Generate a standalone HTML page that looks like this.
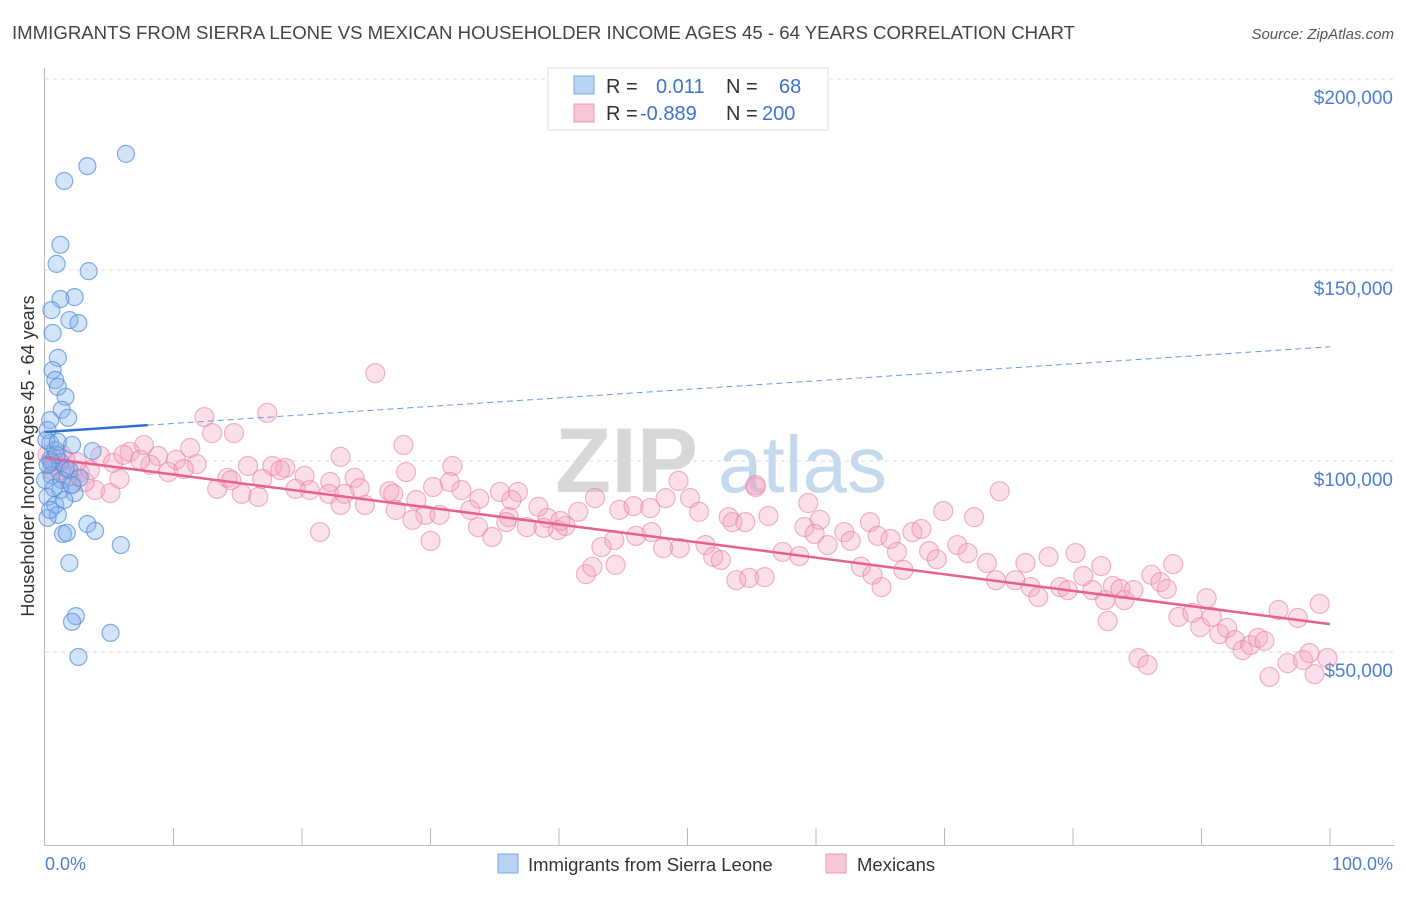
<!DOCTYPE html>
<html><head><meta charset="utf-8"><style>
body{margin:0;background:#fff;font-family:"Liberation Sans",sans-serif;}
svg text{font-family:"Liberation Sans",sans-serif;}
</style></head><body>
<svg id="chart" width="1406" height="892" viewBox="0 0 1406 892" xmlns="http://www.w3.org/2000/svg">
<text x="12" y="39" font-size="18.5" fill="#444" textLength="1063" lengthAdjust="spacingAndGlyphs">IMMIGRANTS FROM SIERRA LEONE VS MEXICAN HOUSEHOLDER INCOME AGES 45 - 64 YEARS CORRELATION CHART</text>
<text x="1394" y="39" font-size="15" fill="#555" font-style="italic" text-anchor="end">Source: ZipAtlas.com</text>
<g>
<text x="555" y="492" font-size="92" fill="#d8d8d8" font-family="Liberation Serif" font-weight="bold">ZIP</text>
<text x="718" y="492" font-size="80" fill="#c4d8ee">atlas</text>
</g>
<g id="grid"></g>
<line x1="44.5" y1="68" x2="44.5" y2="846" stroke="#bbb"/>
<line x1="44" y1="845.5" x2="1395" y2="845.5" stroke="#bbb"/>
<g id="xticks"></g>
<text transform="translate(34,456) rotate(-90)" font-size="18" fill="#333" text-anchor="middle">Householder Income Ages 45 - 64 years</text>
<text x="45" y="870" font-size="18" fill="#4a80d0">0.0%</text>
<text x="1393" y="870" font-size="18" fill="#4a80d0" text-anchor="end">100.0%</text>
<g id="pink"></g>
<g id="blue"></g>
<g id="trends"></g>
<g>
<rect x="548" y="68" width="280" height="62" fill="#fff" stroke="#ddd"/>
<rect x="574" y="76" width="20" height="18" fill="#b8d2f3" stroke="#7aa7e0"/>
<rect x="574" y="104" width="20" height="18" fill="#f9c6d6" stroke="#ec98b5"/>
<text x="606" y="93" font-size="20" fill="#333">R = </text><text x="656" y="93" font-size="20" fill="#3a74d0">0.011</text>
<text x="726" y="93" font-size="20" fill="#333">N = </text><text x="779" y="93" font-size="20" fill="#3a74d0">68</text>
<text x="606" y="120" font-size="20" fill="#333">R = </text><text x="640" y="120" font-size="20" fill="#3a74d0">-0.889</text>
<text x="726" y="120" font-size="20" fill="#333">N = </text><text x="762" y="120" font-size="20" fill="#3a74d0">200</text>
</g>
<g>
<rect x="498" y="854" width="20" height="19" fill="#b8d2f3" stroke="#7aa7e0"/>
<text x="528" y="871" font-size="18.5" fill="#333">Immigrants from Sierra Leone</text>
<rect x="826" y="854" width="20" height="19" fill="#f9c6d6" stroke="#ec98b5"/>
<text x="857" y="871" font-size="18.5" fill="#333">Mexicans</text>
</g>
</svg>
<script>
const yTicks=[50000,100000,150000,200000];
const yTickLabels=["$50,000","$100,000","$150,000","$200,000"];
const blueX=[6.3,3.3,1.5,1.2,0.9,3.4,2.3,1.2,0.5,1.9,2.6,0.6,1.0,0.6,0.8,1.0,1.6,1.3,1.8,0.4,0.2,0.4,2.1,0.8,3.7,0.4,1.2,1.6,0.5,1.3,2.3,0.2,0.8,1.0,0.2,1.4,1.7,3.3,3.9,5.9,1.9,2.4,2.1,5.1,2.6,0.5,0.9,0,1.2,0.4,1.9,2.7,0.1,1.0,0.2,0.7,1.5,2.1];
const blueY=[180.4,177.2,173.3,156.6,151.6,149.7,142.9,142.4,139.5,136.9,136.1,133.5,127.0,123.8,121.2,119.4,116.8,113.4,111.3,110.7,108.1,104.7,104.2,102.9,102.6,100.3,99.7,98.2,96.3,95.0,91.6,90.6,88.5,85.9,85.1,80.9,81.2,83.5,81.7,78.0,73.3,59.4,57.9,55.0,48.7,99.7,101.6,95,92.4,87.2,97.6,95.6,105.5,105,99,92.9,89.8,93.7];
const pinkX=[25.7,17.3,12.4,14.7,13.0,27.9,7.7,11.3,6.6,4.3,8.8,10.2,23.0,31.7,28.1,15.8,17.7,18.7,20.2,24.1,22.2,11.8,14.2,13.4,15.3,16.6,19.5,22.1,23.3,26.8,28.9,30.2,32.4,33.8,35.4,36.8,36.3,38.4,24.9,23.0,21.4,27.3,29.6,30.7,33.7,34.8,36.1,37.5,39.1,39.9,40.5,41.5,42.8,43.3,42.1,44.4,44.7,45.8,47.1,49.3,48.3,50.2,50.9,53.2,51.4,49.4,48.1,47.2,46.0,44.3,53.5,54.5,55.3,56.3,57.4,58.7,59.4,59.1,60.3,59.9,60.9,62.2,62.7,64.2,64.8,63.5,64.4,65.1,65.8,66.3,66.8,67.5,68.2,68.8,69.4,69.9,71.0,72.3,71.8,73.3,74.0,75.5,76.3,76.7,77.3,78.1,79.0,79.6,80.2,80.8,81.5,82.2,82.5,83.1,83.7,84.0,84.7,82.7,85.1,85.8,86.1,86.8,87.3,87.8,88.2,89.3,89.9,90.4,90.8,91.4,92.0,92.6,93.2,93.8,94.4,94.9,95.3,96.0,96.7,97.5,97.9,98.4,98.8,99.2,99.8,74.3,55.3,42.6,53.8,54.8,56.0,52.0,52.6,40.1,38.8,33.1,35.9,31.5,30.0,28.6,27.1,24.5,20.6,18.3,16.9,14.5,5.3,5.8,3.9,2.7,1.8,1.2,0.8,2.1,3.1,5.1,1.3,3.5,8.2,9.6,10.8,7.4,6.1,0.2,0.5,1.6,2.5];
const pinkY=[123.0,112.6,111.5,107.3,107.3,104.2,104.2,103.4,102.4,101.3,101.3,100.3,101.1,98.7,97.1,98.7,98.7,98.2,96.1,95.6,94.5,99.2,95.6,92.7,91.4,90.6,92.7,91.4,91.4,92.1,89.8,93.2,92.4,90.1,91.9,91.9,89.8,88.0,88.5,88.5,81.4,87.2,85.9,85.9,82.7,80.1,85.3,82.7,85.1,81.9,83.0,86.7,90.3,77.5,70.4,72.8,87.2,88.2,87.7,94.8,90.3,90.3,86.7,85.3,78.0,77.2,77.2,81.4,80.4,79.3,84.0,84.0,93.2,85.6,76.2,75.1,89.0,82.7,84.6,80.9,78.0,81.4,79.1,84.0,80.4,72.3,70.2,67.0,79.6,76.2,71.5,81.4,82.2,76.4,74.3,86.9,78.0,85.3,75.9,73.3,68.8,68.8,73.3,67.0,64.4,74.9,67.0,66.2,75.9,69.9,66.2,72.5,63.6,67.3,66.5,63.6,66.2,58.1,48.4,46.6,70.2,68.3,66.5,73.0,59.2,60.2,56.5,64.1,59.2,54.7,56.3,53.1,50.5,51.8,53.7,52.9,43.5,61.0,47.1,58.9,47.9,49.7,44.2,62.6,48.4,92.1,93.7,72.3,68.8,69.4,69.6,74.9,74.1,84.3,82.5,87.2,84.0,94.5,79.1,84.6,91.4,92.9,92.4,97.6,95.3,95.0,99.5,95.3,92.4,96.9,96.3,97.6,99.0,94.2,94.5,91.6,101.6,97.6,99.0,97.1,97.9,100.3,101.6,101.6,97.6,100.3,99.7];
const blueTrend=[107600,129900];
const pinkTrend=[100800,57300];
const blueSolidEnd=8;
const NS="http://www.w3.org/2000/svg";
const xS=p=>45+p*12.85;
const yS=v=>652-(v-50000)*191/50000;
function mk(tag,attrs,parent){const e=document.createElementNS(NS,tag);for(const k in attrs)e.setAttribute(k,attrs[k]);parent.appendChild(e);return e;}
const grid=document.getElementById('grid');
yTicks.forEach((t,i)=>{
  const l=mk('line',{x1:45,x2:1395,y1:yS(t),y2:yS(t),stroke:'#ddd','stroke-dasharray':'4,4'},grid);
  
  
  const tx=mk('text',{x:1393,y:yS(t)+25,'font-size':19,fill:'#4a80d0','text-anchor':'end'},grid);
  tx.textContent=yTickLabels[i];
  
  
});
const xt=document.getElementById('xticks');
for(let i=1;i<=10;i++){
  const l=mk('line',{x1:xS(i*10),x2:xS(i*10),y1:828,y2:845,stroke:'#bbb'},xt);
  
  
}
const pg=document.getElementById('pink');
pinkX.forEach((x,i)=>{
  const c=mk('circle',{cx:xS(x),cy:yS(pinkY[i]*1000),r:9.5,fill:'rgba(244,160,190,0.33)',stroke:'rgba(232,130,165,0.6)','stroke-width':1.2},pg);
  
  
});
const bg=document.getElementById('blue');
blueX.forEach((x,i)=>{
  const c=mk('circle',{cx:xS(x),cy:yS(blueY[i]*1000),r:8.5,fill:'rgba(130,175,235,0.35)',stroke:'rgba(80,140,220,0.7)','stroke-width':1.2},bg);
  
  
});
const tg=document.getElementById('trends');
const bAt=p=>blueTrend[0]+(blueTrend[1]-blueTrend[0])*p/100;
const pAt=p=>pinkTrend[0]+(pinkTrend[1]-pinkTrend[0])*p/100;
let l1=mk('line',{x1:xS(0),y1:yS(bAt(0)),x2:xS(blueSolidEnd),y2:yS(bAt(blueSolidEnd)),stroke:'#2f6fd0','stroke-width':2.5},tg);


let l2=mk('line',{x1:xS(blueSolidEnd),y1:yS(bAt(blueSolidEnd)),x2:xS(100),y2:yS(bAt(100)),stroke:'#6b9ae0','stroke-width':1,'stroke-dasharray':'6,4'},tg);


let l3=mk('line',{x1:xS(0),y1:yS(pAt(0)),x2:xS(100),y2:yS(pAt(100)),stroke:'#e8608e','stroke-width':2.5},tg);


</script>
</body></html>
